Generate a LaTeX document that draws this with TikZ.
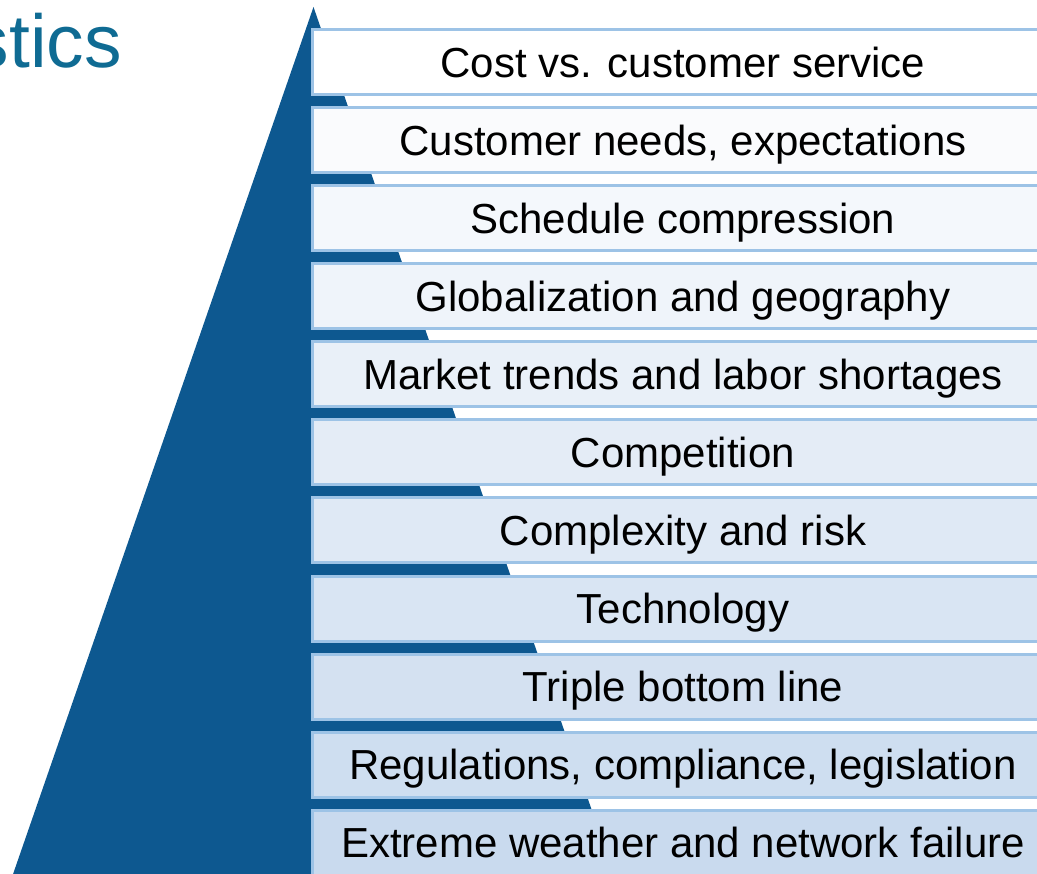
\documentclass[tikz,border=0pt]{standalone}
\usepackage{fontspec}
\setmainfont{Liberation Sans}
\definecolor{tri}{HTML}{0D5890}
\definecolor{edge}{HTML}{9DC3E6}
\definecolor{boxend}{HTML}{C9DAEE}
\definecolor{titlec}{HTML}{0F6B93}
\begin{document}
\begin{tikzpicture}[x=1pt,y=-1pt,
  boxstyle/.style={draw=edge, line width=3pt, minimum width=742pt, minimum height=65pt,
    inner sep=0pt, text height=30pt, text depth=0pt, text=black,
    font=\fontsize{42}{50}\selectfont},
  titlestyle/.style={text=titlec, inner sep=0pt, font=\fontsize{75}{90}\selectfont}]
\useasboundingbox (0,0) rectangle (1037,874);
\clip (0,0) rectangle (1037,874);
\node[titlestyle, anchor=base east] (title) at (122,68) {stics};
\fill[tri] (313.5,7) -- (11,880) -- (616,880) -- cycle;
\foreach \t [count=\i from 0] in {{Cost vs. customer service},{Customer needs, expectations},{Schedule compression},{Globalization and geography},{Market trends and labor shortages},{Competition},{Complexity and risk},{Technology},{Triple bottom line},{Regulations, compliance, legislation},{Extreme weather and network failure}}{
  \pgfmathtruncatemacro\pct{10*\i}
  \node[boxstyle, fill=boxend!\pct!white] (b\i) at (683, 62.5+78*\i) {\t};
}
\end{tikzpicture}
\end{document}
